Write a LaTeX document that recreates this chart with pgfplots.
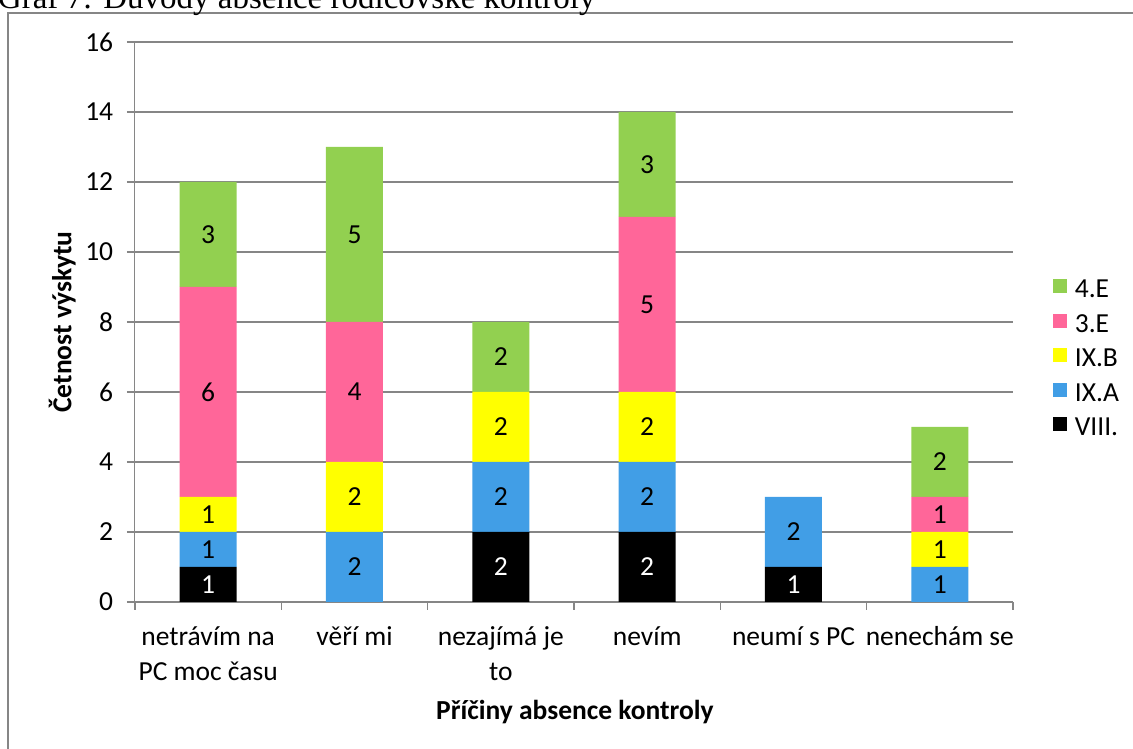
\documentclass[border=0pt]{standalone}
\usepackage{pgfplots}
\pgfplotsset{compat=1.18}
\usepackage{fontspec}
\setmainfont{Carlito}
\newfontfamily\titlefont{Liberation Serif}

\definecolor{cviii}{HTML}{000000}
\definecolor{cixa}{HTML}{419EE6}
\definecolor{cixb}{HTML}{FFFF00}
\definecolor{cthree}{HTML}{FF6699}
\definecolor{cfour}{HTML}{92D050}
\definecolor{axgray}{HTML}{868686}

\begin{document}
\begin{tikzpicture}
\pgfplotsset{
  base/.style={
    width=351.2pt, height=224pt, scale only axis,
    xmin=-0.5, xmax=5.5, ymin=0, ymax=16,
    at={(0pt,0pt)}, anchor=south west,
  },
}
% outer frame of the chart
\draw[axgray, line width=0.8pt] (-50.8pt,-80pt) rectangle (420pt,235.6pt);
% title, cut at the top as in the source
\node[anchor=base west, font=\titlefont\fontsize{13.2pt}{15pt}\selectfont, inner sep=0pt]
  at (-55pt,237.4pt) {Graf 7: Důvody absence rodičovské kontroly};

\begin{axis}[base,
  ybar stacked, bar width=22.8pt,
  axis x line*=bottom, axis y line*=left,
  axis line style={-, draw=axgray},
  every outer x axis line/.append style={-},
  every outer y axis line/.append style={-},
  ytick={0,2,...,16},
  ymajorgrids, major grid style={draw=axgray, line width=0.6pt},
  tick align=outside, major tick length=3.2pt, minor tick length=3.2pt,
  tick style={draw=axgray, line width=0.6pt},
  xtick={0,...,5},
  xticklabels={{netrávím na\\PC moc času},{věří mi},{nezajímá je\\to},{nevím},{neumí s PC},{nenechám se}},
  minor xtick={-0.5,0.5,...,5.5},
  every major x tick/.append style={draw=none},
  xticklabel style={align=center, yshift=-3pt},
  yticklabel style={xshift=-2pt},
  tick label style={font=\fontsize{11pt}{14pt}\selectfont},
  /pgf/number format/assume math mode=true,
  xlabel={\textbf{Příčiny absence kontroly}},
  ylabel={\textbf{Četnost výskytu}},
  every axis x label/.style={at={(axis description cs:0.501,-0.196)}, anchor=center, font=\fontsize{11pt}{14pt}\selectfont},
  every axis y label/.style={at={(axis description cs:-0.083,0.5)}, rotate=90, anchor=center, font=\fontsize{11pt}{14pt}\selectfont},
  reverse legend,
  legend cell align=left,
  legend style={at={(1.036,0.4366)}, anchor=west, draw=none, fill=none,
    font=\fontsize{11pt}{14pt}\selectfont,
    nodes={inner sep=0pt, text height=7pt, text depth=0pt},
    row sep=6.4pt, column sep=3.3pt},
  legend image code/.code={\fill[#1, draw=none] (0pt,-1.7pt) rectangle (5.6pt,3.9pt);},
]
\addplot[fill=cviii, draw=none] coordinates {(0,1) (1,0) (2,2) (3,2) (4,1) (5,0)};
\addplot[fill=cixa, draw=none] coordinates {(0,1) (1,2) (2,2) (3,2) (4,2) (5,1)};
\addplot[fill=cixb, draw=none] coordinates {(0,1) (1,2) (2,2) (3,2) (4,0) (5,1)};
\addplot[fill=cthree, draw=none] coordinates {(0,6) (1,4) (2,0) (3,5) (4,0) (5,1)};
\addplot[fill=cfour, draw=none] coordinates {(0,3) (1,5) (2,2) (3,3) (4,0) (5,2)};
\legend{VIII.,IX.A,IX.B,3.E,4.E}
\end{axis}

% segment value labels, at the middle of each segment
\begin{axis}[base, hide axis,
  cycle list={{mark=*, mark size=0pt, mark options={draw=none, fill=none}}},
  nodes near coords, point meta=explicit symbolic, nodes near coords align=center]
\addplot+[only marks,
  every node near coord/.append style={text=white, font=\fontsize{11pt}{14pt}\selectfont}]
  coordinates {(0,0.5)[1] (2,1)[2] (3,1)[2] (4,0.5)[1]};
\addplot+[only marks,
  every node near coord/.append style={text=black, font=\fontsize{11pt}{14pt}\selectfont}]
  coordinates {
    (0,1.5)[1] (0,2.5)[1] (0,6)[6] (0,10.5)[3]
    (1,1)[2] (1,3)[2] (1,6)[4] (1,10.5)[5]
    (2,3)[2] (2,5)[2] (2,7)[2]
    (3,3)[2] (3,5)[2] (3,8.5)[5] (3,12.5)[3]
    (4,2)[2]
    (5,0.5)[1] (5,1.5)[1] (5,2.5)[1] (5,4)[2]
  };
\end{axis}

\pgfresetboundingbox
\useasboundingbox (-54pt,-58.8pt) rectangle (399.2pt,240.8pt);
\end{tikzpicture}
\end{document}
